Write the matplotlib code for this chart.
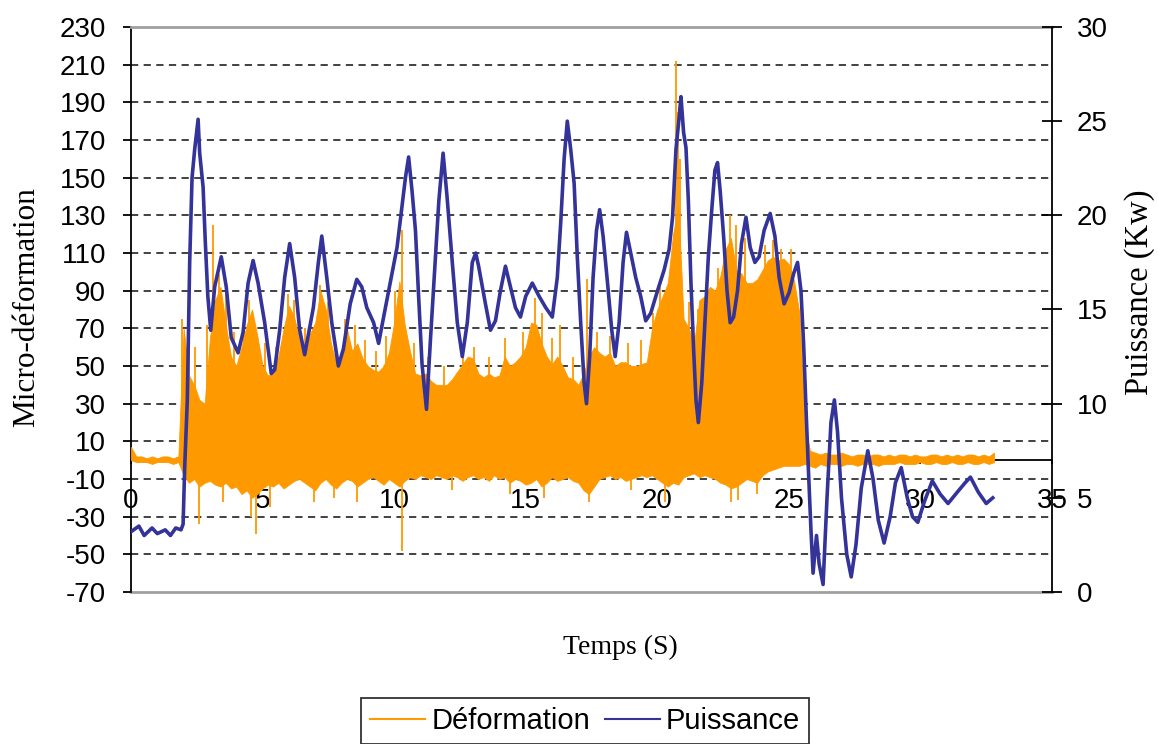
import numpy as np
import matplotlib.pyplot as plt
from matplotlib.lines import Line2D

plt.rcParams['axes.unicode_minus'] = False

ORANGE = '#FF9900'
BLUE = '#333399'

# strain gauge trace, sampled every 0.2 s (upper / lower envelope, micro-strain)
t_def = np.round(np.arange(0, 32.81, 0.2), 1)
def_hi = [7, 2, 2, 1, 2, 1, 2, 2, 1, 2,
          70, 45, 40, 32, 30, 65, 85, 92, 72, 55,
          50, 60, 72, 80, 66, 50, 45, 46, 55, 70,
          82, 76, 64, 55, 67, 73, 90, 80, 62, 51,
          55, 70, 58, 62, 54, 50, 48, 47, 50, 57,
          73, 95, 72, 58, 46, 45, 46, 42, 40, 40,
          40, 43, 47, 51, 55, 54, 46, 44, 46, 44,
          45, 55, 50, 52, 55, 60, 73, 72, 62, 55,
          51, 55, 50, 44, 43, 40, 46, 55, 60, 57,
          55, 57, 50, 52, 52, 50, 50, 51, 52, 70,
          80, 87, 94, 120, 135, 75, 70, 62, 85, 87,
          92, 90, 98, 112, 118, 101, 99, 94, 94, 96,
          101, 106, 108, 106, 107, 104, 95, 78, 20,
          5, 4, 3, 4, 3, 3, 4, 3, 2, 3, 3, 2, 3, 3, 2, 3, 2, 3,
          3, 2, 3, 2, 2, 3, 3, 2, 3, 2, 3, 2, 3, 3, 2, 3, 2, 4]
def_lo = [0, -1, -1, -1, -2, -1, -1, -1, -2, -1,
          -8, -12, -10, -14, -12, -11, -13, -14, -12, -15,
          -14, -18, -16, -20, -18, -15, -13, -14, -12, -15,
          -13, -11, -10, -12, -14, -16, -12, -10, -13, -15,
          -12, -10, -11, -14, -12, -10, -9, -11, -13, -10,
          -12, -14, -11, -9, -10, -8, -9, -10, -8, -9,
          -10, -8, -9, -11, -9, -8, -10, -9, -11, -8,
          -10, -9, -12, -10, -11, -13, -12, -10, -14, -12,
          -9, -11, -10, -9, -11, -12, -16, -18, -14, -10,
          -9, -8, -10, -9, -11, -10, -9, -8, -9, -8,
          -10, -12, -14, -12, -13, -9, -8, -7, -9, -8,
          -9, -10, -12, -13, -15, -14, -12, -10, -11, -12,
          -8, -6, -5, -4, -3, -3, -3, -3, -2,
          -3, -4, -2, -3, -2, -2, -3, -2, -2, -3, -2, -2, -2, -3, -2, -2, -2, -1,
          -2, -2, -2, -1, -2, -2, -1, -2, -2, -1, -2, -2, -1, -2, -2, -1, -2, -1]

# isolated peaks of the strain trace
spike_t = [1.95, 2.22, 2.45, 2.9, 3.1, 3.33, 3.6, 3.9, 4.3, 4.5, 5.1, 5.5,
           5.95, 6.2, 6.6, 7.18, 7.5, 8.12, 8.5, 8.9, 9.3, 9.7, 10.05, 10.3,
           10.75, 11.3, 11.9, 12.6, 13.05, 13.6, 14.2, 14.9, 15.35, 15.6,
           16.0, 16.3, 16.8, 17.32, 17.7, 18.2, 18.9, 19.4, 19.85, 20.1,
           20.72, 20.8, 20.88, 21.2, 21.55, 21.9, 22.3, 22.75, 23.0, 23.35,
           24.1, 24.4, 24.7, 25.1,
           2.6, 3.5, 4.55, 4.75, 5.3, 6.95, 7.7, 8.6, 10.28, 12.2, 14.4,
           15.7, 17.4, 19.0, 20.3, 22.8, 23.05, 23.8]
spike_v = [75, 78, 60, 72, 125, 99, 88, 68, 75, 85, 62, 60,
           88, 85, 70, 93, 84, 75, 72, 64, 58, 66, 90, 122,
           62, 55, 50, 60, 60, 55, 65, 68, 86, 78,
           65, 72, 55, 96, 68, 66, 62, 64, 78, 92,
           212, 185, 160, 84, 80, 96, 102, 130, 125, 118,
           114, 117, 112, 112,
           -34, -22, -30, -39, -25, -22, -20, -22, -48, -16, -18,
           -20, -22, -16, -22, -22, -21, -18]

# power (kW)
t_pw = [0, 0.3, 0.5, 0.8, 1.0, 1.3, 1.5, 1.7, 1.9, 1.98,
        2.04, 2.14, 2.23, 2.32, 2.42, 2.55, 2.61, 2.74, 2.82, 2.92,
        3.03, 3.18, 3.43, 3.62, 3.81, 4.07, 4.26, 4.45, 4.64, 4.83,
        5.08, 5.33, 5.46, 5.65, 5.84, 6.03, 6.22, 6.41, 6.6, 6.93,
        7.12, 7.25, 7.44, 7.63, 7.88, 8.07, 8.33, 8.58, 8.77, 8.96,
        9.22, 9.41, 9.6, 9.85, 10.11, 10.3, 10.43, 10.55, 10.68, 10.81,
        10.93, 11.06, 11.23, 11.38, 11.57, 11.7, 11.86, 12.01, 12.21, 12.4,
        12.59, 12.78, 12.97, 13.1, 13.21, 13.47, 13.66, 13.85, 14.04, 14.23,
        14.42, 14.61, 14.8, 15.0, 15.25, 15.51, 15.76, 16.01, 16.2, 16.33,
        16.46, 16.58, 16.71, 16.84, 16.96, 17.09, 17.22, 17.31, 17.43, 17.56,
        17.69, 17.81, 17.94, 18.11, 18.27, 18.4, 18.55, 18.7, 18.83, 18.99,
        19.18, 19.37, 19.56, 19.75, 20.01, 20.26, 20.45, 20.58, 20.71, 20.83,
        20.9, 21.0, 21.09, 21.18, 21.28, 21.38, 21.47, 21.56, 21.69, 21.81,
        21.94, 22.07, 22.19, 22.29, 22.39, 22.52, 22.65, 22.77, 22.9, 23.05,
        23.2, 23.37, 23.53, 23.71, 23.87, 24.06, 24.29, 24.47, 24.63, 24.82,
        25.01, 25.18, 25.33, 25.46, 25.56, 25.65, 25.74, 25.84, 25.92, 26.05,
        26.15, 26.3, 26.45, 26.6, 26.73, 26.85, 27.0, 27.2, 27.37, 27.55,
        27.75, 28.0, 28.2, 28.4, 28.62, 28.85, 29.05, 29.27, 29.5, 29.7,
        29.9, 30.15, 30.45, 30.75, 31.05, 31.4, 31.7, 31.9, 32.2, 32.5, 32.75]
pw = [3.2, 3.5, 3.0, 3.4, 3.1, 3.3, 3.0, 3.4, 3.3, 3.6,
      6.6, 10.2, 17.5, 22.0, 23.5, 25.1, 23.3, 21.5, 18.7, 15.7,
      13.9, 16.2, 17.8, 16.2, 13.5, 12.7, 13.8, 16.4, 17.6, 16.4,
      14.3, 11.6, 11.8, 13.9, 16.7, 18.5, 16.7, 13.9, 12.6, 15.1,
      17.5, 18.9, 16.7, 14.3, 12.0, 12.9, 15.3, 16.6, 16.2, 15.1,
      14.3, 13.2, 14.6, 16.4, 18.3, 20.5, 22.0, 23.1, 21.3, 19.2,
      15.7, 12.1, 9.7, 13.4, 17.8, 20.8, 23.3, 21.0, 17.5, 14.3,
      12.5, 14.3, 17.5, 18.0, 17.3, 15.3, 13.9, 14.4, 16.0, 17.3,
      16.2, 15.1, 14.6, 15.7, 16.4, 15.7, 15.1, 14.6, 16.7, 19.6,
      23.0, 25.0, 23.5, 21.7, 17.8, 14.3, 11.1, 10.0, 12.5, 16.7,
      19.2, 20.3, 18.9, 16.4, 13.9, 12.5, 14.3, 17.5, 19.1, 18.0,
      16.7, 15.7, 14.4, 14.8, 16.0, 17.1, 18.2, 19.9, 23.5, 25.2,
      26.3, 24.4, 23.6, 20.8, 16.4, 12.9, 10.2, 9.0, 11.1, 14.3,
      17.8, 20.3, 22.4, 22.8, 21.3, 18.9, 16.0, 14.3, 14.6, 16.0,
      18.5, 19.9, 18.3, 17.5, 17.8, 19.2, 20.1, 18.9, 16.7, 15.3,
      15.9, 16.9, 17.5, 16.0, 13.2, 9.8, 6.6, 3.3, 1.0, 3.0,
      1.5, 0.4, 5.0, 9.0, 10.2, 8.5, 5.0, 2.0, 0.8, 2.5,
      5.5, 7.5, 6.0, 3.8, 2.6, 4.0, 5.8, 6.6, 5.0, 4.0,
      3.7, 4.8, 5.9, 5.2, 4.7, 5.3, 5.8, 6.1, 5.3, 4.7, 5.0]

fig = plt.figure(figsize=(11.58, 7.44), dpi=100)
ax = fig.add_axes([131 / 1158, 152 / 744, 921 / 1158, 565 / 744])
ax2 = ax.twinx()

# -----------------------------
# strain (left axis)
# -----------------------------
ax.fill_between(t_def, def_lo, def_hi, color=ORANGE, lw=0.6, zorder=3)
ax.vlines(spike_t, 0, spike_v, color=ORANGE, lw=1.3, zorder=3)

for y in range(-50, 211, 20):
    ax.axhline(y, color='#333333', lw=1.3, ls=(0, (4, 3)), zorder=0.5)
ax.axhline(-70, color='#a0a0a0', lw=2, zorder=2.5, clip_on=False)

ax.set_xlim(0, 35)
ax.set_ylim(-70, 230)
ax.set_xticks(range(0, 36, 5))
ax.set_yticks(range(-70, 231, 20))
ax.spines['bottom'].set_position(('data', 0))
ax.spines['bottom'].set_linewidth(1.3)
ax.spines['left'].set_linewidth(1.3)
ax.spines['right'].set_visible(False)
ax.spines['top'].set_color('#a0a0a0')
ax.spines['top'].set_linewidth(2)
ax.tick_params(axis='y', direction='out', length=6, width=1.3, pad=12,
               labelsize=20)
ax.tick_params(axis='x', direction='out', length=3, width=1.3, pad=17,
               labelsize=20)

# -----------------------------
# power (right axis)
# -----------------------------
ax2.plot(t_pw, pw, color=BLUE, lw=2.6)
ax2.set_ylim(0, 30)
ax2.set_yticks(range(0, 31, 5))
for s in ['left', 'top', 'bottom']:
    ax2.spines[s].set_visible(False)
ax2.spines['right'].set_linewidth(1.3)
ax2.tick_params(axis='y', direction='inout', length=14, width=1.3, pad=11,
                labelsize=20)

for a in (ax, ax2):
    for lab in a.get_xticklabels() + a.get_yticklabels():
        lab.set_family('Liberation Sans')

fig.text(27 / 1158, 1 - 307 / 744, 'Micro-déformation', rotation=90,
         ha='center', va='center', family='Liberation Serif', fontsize=22.5)
fig.text(1140 / 1158, 1 - 292 / 744, 'Puissance (Kw)', rotation=90,
         ha='center', va='center', family='Liberation Serif', fontsize=23.5)
fig.text(620 / 1158, 1 - 647 / 744, 'Temps (S)',
         ha='center', va='center', family='Liberation Serif', fontsize=20)

handles = [Line2D([], [], color=ORANGE, lw=1.5),
           Line2D([], [], color=BLUE, lw=1.5)]
leg = fig.legend(handles, ['Déformation', 'Puissance'], loc='upper center',
                 bbox_to_anchor=(585 / 1158, 46 / 744), ncol=2, frameon=True,
                 fancybox=False, borderaxespad=0, handlelength=1.9,
                 handletextpad=0.2, columnspacing=0.5, borderpad=0.3,
                 prop={'family': 'Liberation Sans', 'size': 21})
leg.get_frame().set_edgecolor('black')
leg.get_frame().set_linewidth(1.3)

fig.savefig('out.png', dpi=100)
